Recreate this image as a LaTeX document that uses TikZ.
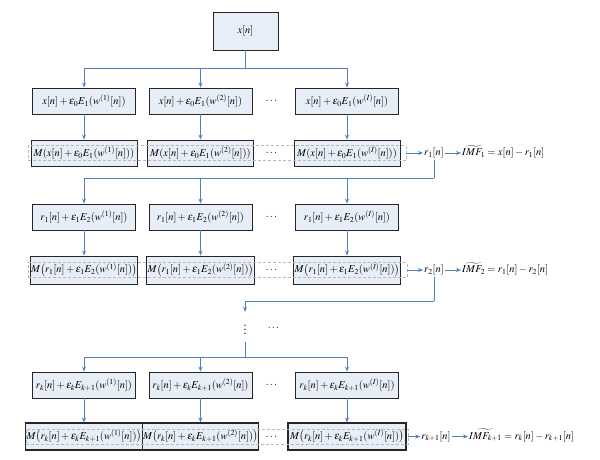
\documentclass[tikz,border=0pt]{standalone}
\usepackage{amsmath}
\usepackage{mathptmx}
\usetikzlibrary{arrows.meta}
\definecolor{boxfill}{RGB}{232,238,247}
\definecolor{flow}{RGB}{79,129,189}

\begin{document}
\begin{tikzpicture}[
    x=1pt, y=-1pt,
    font=\fontsize{10.5}{12}\selectfont,
    stage/.style={draw=black!85, line width=0.9pt, fill=boxfill, minimum width=103pt, minimum height=26pt, inner sep=1pt},
    mbox/.style={stage, minimum width=106pt},
    group/.style={draw=gray!55, densely dashed, line width=0.35pt, minimum height=15pt, inner sep=0pt},
    result/.style={inner sep=1pt, text height=8pt, text depth=3pt},
    flowline/.style={draw=flow, line width=0.9pt},
    >={Stealth[length=5pt,width=4pt]}
  ]
  \useasboundingbox (0,0) rectangle (600,459);

  % Input
  \node[stage, minimum width=65pt, minimum height=38pt] (xin) at (245.5,31) {$x[n]$};
  \coordinate (s0) at (245.5,68);

  % Mode 1: noisy copies
  \node[stage] (a1) at (84,101) {$x[n]+\varepsilon_0E_1(w^{(1)}[n])$};
  \node[stage] (a2) at (200.5,101) {$x[n]+\varepsilon_0E_1(w^{(2)}[n])$};
  \node[stage] (a3) at (347,101) {$x[n]+\varepsilon_0E_1(w^{(I)}[n])$};
  \node (adots) at (272,101) {$\cdots$};

  % Mode 1: local means
  \node[mbox] (m1) at (84,153) {$M(x[n]+\varepsilon_0E_1(w^{(1)}[n]))$};
  \node[mbox] (m2) at (200.5,153) {$M(x[n]+\varepsilon_0E_1(w^{(2)}[n]))$};
  \node[mbox] (m3) at (347,153) {$M(x[n]+\varepsilon_0E_1(w^{(I)}[n]))$};
  \node (mdots) at (272,153) {$\cdots$};
  \node[group, minimum width=378pt] (g1) at (217,153) {};

  \node[result] (r1) at (434,153) {$r_1[n]$};
  \node[result, anchor=west] (imf1) at (461,153) {$\widetilde{IMF_1}=x[n]-r_1[n]$};
  \coordinate (s1) at (434,178);

  % Mode 2: noisy copies
  \node[stage] (b1) at (84,217) {$r_1[n]+\varepsilon_1E_2(w^{(1)}[n])$};
  \node[stage] (b2) at (200.5,217) {$r_1[n]+\varepsilon_1E_2(w^{(2)}[n])$};
  \node[stage] (b3) at (347,217) {$r_1[n]+\varepsilon_1E_2(w^{(I)}[n])$};
  \node (bdots) at (272,217) {$\cdots$};

  % Mode 2: local means
  \node[mbox, minimum height=28pt] (p1) at (84,270) {$M\bigl(r_1[n]+\varepsilon_1E_2(w^{(1)}[n])\bigr)$};
  \node[mbox, minimum height=28pt] (p2) at (200.5,270) {$M\bigl(r_1[n]+\varepsilon_1E_2(w^{(2)}[n])\bigr)$};
  \node[mbox, minimum height=28pt] (p3) at (347,270) {$M\bigl(r_1[n]+\varepsilon_1E_2(w^{(I)}[n])\bigr)$};
  \node (pdots) at (272,270) {$\cdots$};
  \node[group, minimum width=379pt] (g2) at (217.5,270) {};

  \node[result] (r2) at (434,270) {$r_2[n]$};
  \node[result, anchor=west] (imf2) at (461,270) {$\widetilde{IMF_2}=r_1[n]-r_2[n]$};
  \coordinate (s2) at (434,301);

  % Further modes
  \node[font=\Large, inner sep=0pt, minimum height=30pt] (vdots) at (245,327) {$\vdots$};
  \node (hdots) at (274,328) {$\cdots$};
  \coordinate (s3) at (245,357);

  % Mode k+1: noisy copies
  \node[stage] (c1) at (84,385) {$r_k[n]+\varepsilon_kE_{k+1}(w^{(1)}[n])$};
  \node[stage] (c2) at (200.5,385) {$r_k[n]+\varepsilon_kE_{k+1}(w^{(2)}[n])$};
  \node[stage] (c3) at (347,385) {$r_k[n]+\varepsilon_kE_{k+1}(w^{(I)}[n])$};
  \node (cdots) at (272,385) {$\cdots$};

  % Mode k+1: local means
  \node[mbox, minimum width=115pt, minimum height=27pt, line width=1.1pt] (n1) at (84,436.5) {$M\bigl(r_k[n]+\varepsilon_kE_{k+1}(w^{(1)}[n])\bigr)$};
  \node[mbox, minimum width=115pt, minimum height=27pt, line width=1.1pt] (n2) at (200.5,436.5) {$M\bigl(r_k[n]+\varepsilon_kE_{k+1}(w^{(2)}[n])\bigr)$};
  \node[mbox, minimum width=118pt, minimum height=27pt, line width=1.1pt] (n3) at (347,436.5) {$M\bigl(r_k[n]+\varepsilon_kE_{k+1}(w^{(I)}[n])\bigr)$};
  \node (ndots) at (272,437) {$\cdots$};
  \node[group, minimum width=382pt] (g3) at (217,436.5) {};

  \node[result] (r3) at (436,436.5) {$r_{k+1}[n]$};
  \node[result, anchor=west] (imf3) at (468,436.5) {$\widetilde{IMF_{k+1}}=r_k[n]-r_{k+1}[n]$};

  % Edges
  \draw[flowline] (xin) -- (s0);
  \draw[flowline, ->] (s0) -| (a1);
  \draw[flowline, ->] (s0) -| (a2);
  \draw[flowline, ->] (s0) -| (a3);
  \draw[flowline, ->] (a1) -- (m1);
  \draw[flowline, ->] (a2) -- (m2);
  \draw[flowline, ->] (a3) -- (m3);
  \draw[flowline, ->] (g1) -- (r1);
  \draw[flowline, ->] (r1) -- (imf1);
  \draw[flowline] (r1) -- (s1);
  \draw[flowline, ->] (s1) -| (b1);
  \draw[flowline, ->] (s1) -| (b2);
  \draw[flowline, ->] (s1) -| (b3);
  \draw[flowline, ->] (b1) -- (p1);
  \draw[flowline, ->] (b2) -- (p2);
  \draw[flowline, ->] (b3) -- (p3);
  \draw[flowline, ->] (g2) -- (r2);
  \draw[flowline, ->] (r2) -- (imf2);
  \draw[flowline] (r2) -- (s2);
  \draw[flowline, ->] (s2) -| (vdots);
  \draw[flowline] (vdots) -- (s3);
  \draw[flowline, ->] (s3) -| (c1);
  \draw[flowline, ->] (s3) -| (c2);
  \draw[flowline, ->] (s3) -| (c3);
  \draw[flowline, ->] (c1) -- (n1);
  \draw[flowline, ->] (c2) -- (n2);
  \draw[flowline, ->] (c3) -- (n3);
  \draw[flowline, ->] (g3) -- (r3);
  \draw[flowline, ->] (r3) -- (imf3);
\end{tikzpicture}
\end{document}
